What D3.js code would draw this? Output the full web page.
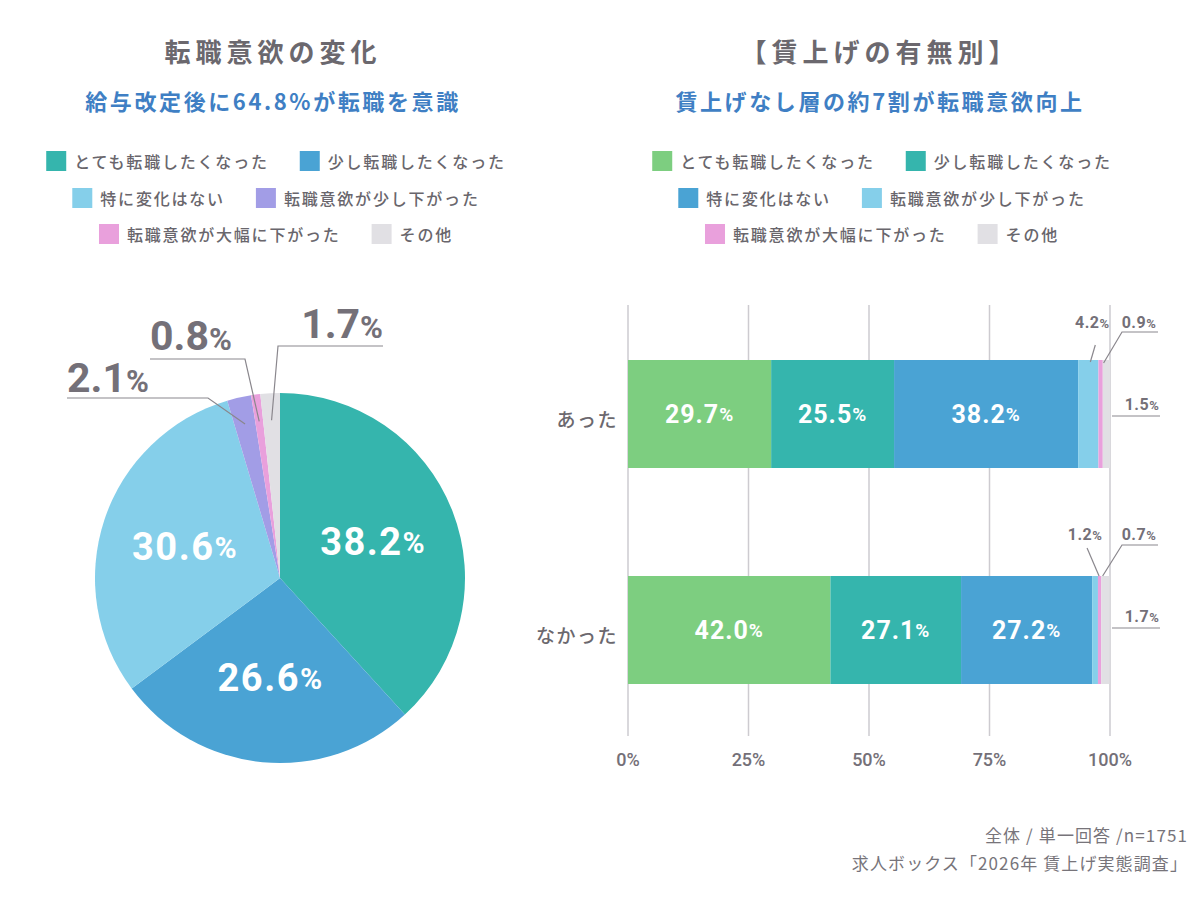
<!DOCTYPE html>
<html>
<head>
<meta charset="utf-8">
<script src="https://cdn.jsdelivr.net/npm/d3@7"></script>
<style>
  body { margin: 0; background: #fff; }
  svg { display: block; font-family: "Noto Sans CJK JP", "Noto Sans", sans-serif; }
  .num { font-family: Roboto, "Noto Sans CJK JP", sans-serif; font-weight: 700; }
</style>
</head>
<body>
<div id="chart"></div>
<script>
// Data
const categories = ["とても転職したくなった", "少し転職したくなった", "特に変化はない", "転職意欲が少し下がった", "転職意欲が大幅に下がった", "その他"];
const pieValues = [38.2, 26.6, 30.6, 2.1, 0.8, 1.7];
const pieColors = ["#35b5ad", "#4aa3d4", "#85cfea", "#a29de6", "#e9a0dc", "#e1e0e4"];
const barGroups = ["あった", "なかった"];
const barAtta = [29.7, 25.5, 38.2, 4.2, 0.9, 1.5];
const barNakatta = [42.0, 27.1, 27.2, 1.2, 0.7, 1.7];
const barColors = ["#7dce80", "#35b5ad", "#4aa3d4", "#85cfea", "#e9a0dc", "#e1e0e4"];
const xTicks = [0, 25, 50, 75, 100];

const W = 1200, H = 900;
const GRAY = "#747078";
const svg = d3.select("#chart").append("svg").attr("width", W).attr("height", H);

// number + smaller percent sign
function pct(sel, v, big, small, ls) {
  sel.attr("class", "num").attr("letter-spacing", ls || 0);
  sel.append("tspan").attr("font-size", big).text(v.toFixed(1));
  sel.append("tspan").attr("font-size", small).text("%");
  return sel;
}

// Titles
function titles(cx, t1, t2) {
  svg.append("text").attr("x", cx).attr("y", 50).attr("text-anchor", "middle")
    .attr("dominant-baseline", "central").attr("font-size", 26).attr("font-weight", 700)
    .attr("letter-spacing", 5).attr("fill", "#6b686e").text(t1);
  svg.append("text").attr("x", cx).attr("y", 100).attr("text-anchor", "middle")
    .attr("dominant-baseline", "central").attr("font-size", 22).attr("font-weight", 700)
    .attr("letter-spacing", 2.6).attr("fill", "#3f7fc4").text(t2);
}
titles(273, "転職意欲の変化", "給与改定後に64.8%が転職を意識");
titles(880, "【賃上げの有無別】", "賃上げなし層の約7割が転職意欲向上");

// Legend: three centred rows of two
function legend(cx, colors) {
  const rows = [[0, 1], [2, 3], [4, 5]];
  const ys = [161, 198, 234];
  rows.forEach((r, ri) => {
    const g = svg.append("g");
    let x = 0;
    r.forEach((i, k) => {
      if (k > 0) x += 31;
      g.append("rect").attr("x", x).attr("y", ys[ri] - 10).attr("width", 20).attr("height", 20).attr("fill", colors[i]);
      const t = g.append("text").attr("x", x + 28).attr("y", ys[ri]).attr("dominant-baseline", "central")
        .attr("font-size", 16).attr("font-weight", 500).attr("letter-spacing", 1.8)
        .attr("fill", "#69666c").text(categories[i]);
      x += 28 + t.node().getComputedTextLength();
    });
    g.attr("transform", `translate(${cx - x / 2},0)`);
  });
}
legend(276, pieColors);
legend(882, barColors);

// Pie
const cx = 280, cy = 578, R = 185;
const pie = d3.pie().sort(null).value((d) => d)(pieValues);
const arc = d3.arc().innerRadius(0).outerRadius(R);
const pg = svg.append("g").attr("transform", `translate(${cx},${cy})`);
pg.selectAll("path").data(pie).join("path")
  .attr("d", arc).attr("fill", (d, i) => pieColors[i]);

const inner = d3.arc().innerRadius(100).outerRadius(100);
pie.slice(0, 3).forEach((d) => {
  const [lx, ly] = inner.centroid(d);
  pct(pg.append("text").attr("x", lx).attr("y", ly).attr("text-anchor", "middle")
    .attr("dominant-baseline", "central").attr("fill", "#fff"), d.data, 38, 30, 1.5);
});

// outside leaders for the small slices
const edge = d3.arc().innerRadius(158).outerRadius(158);
const pieCallouts = [
  { i: 3, elbow: [-72, -180], end: -213, tx: -213, ty: -186, anchor: "start" },
  { i: 4, elbow: [-35, -219], end: -130, tx: -130, ty: -228, anchor: "start" },
  { i: 5, elbow: [-2, -232], end: 103, tx: 103, ty: -240, anchor: "end" }
];
pieCallouts.forEach((c) => {
  const p = edge.centroid(pie[c.i]);
  pg.append("polyline")
    .attr("points", [p, c.elbow, [c.end, c.elbow[1]]].map((q) => q.join(",")).join(" "))
    .attr("fill", "none").attr("stroke", "#8a878d").attr("stroke-width", 1.2);
  pct(pg.append("text").attr("x", c.tx).attr("y", c.ty).attr("text-anchor", c.anchor)
    .attr("fill", GRAY), pieValues[c.i], 41, 31, 0);
});

// Stacked bars
const x = d3.scaleLinear().domain([0, 100]).range([628, 1110]);
const y = d3.scaleBand().domain(barGroups).range([306, 738]).paddingInner(0.5).paddingOuter(0.25);
const bg = svg.append("g");
bg.selectAll("line.grid").data(xTicks).join("line").attr("class", "grid")
  .attr("x1", (d) => x(d)).attr("x2", (d) => x(d)).attr("y1", 305).attr("y2", 736)
  .attr("stroke", "#cdcbd0").attr("stroke-width", 1.5);

const barSeries = [barAtta, barNakatta];
const calloutSets = [
  [{ i: 3, from: [2, 2], to: [7, -15], tx: 4, ty: -32 },
   { i: 4, from: [3, 3], via: [1122, -28], end: 1158, tx: 1139, ty: -32 }],
  [{ i: 3, from: [4, 0], to: [-8, -28], tx: -10, ty: -36 },
   { i: 4, from: [3, 0], via: [1122, -31], end: 1158, tx: 1139, ty: -36 }]
];
const lastLine = [56, 52];

barSeries.forEach((vals, gi) => {
  const y0 = y(barGroups[gi]);
  const h = y.bandwidth();
  let acc = 0;
  const segs = vals.map((v) => { const s = { a: acc, b: acc + v, v }; acc += v; return s; });
  segs.forEach((s, i) => {
    bg.append("rect").attr("x", x(s.a)).attr("y", y0).attr("width", x(s.b) - x(s.a)).attr("height", h)
      .attr("fill", barColors[i]);
    if (s.v >= 10) {
      pct(bg.append("text").attr("x", (x(s.a) + x(s.b)) / 2).attr("y", y0 + h / 2)
        .attr("text-anchor", "middle").attr("dominant-baseline", "central").attr("fill", "#fff"), s.v, 25, 19, 1);
    }
  });
  // small-segment callouts
  calloutSets[gi].forEach((c) => {
    const s = segs[c.i];
    const mid = (x(s.a) + x(s.b)) / 2;
    const p0 = [mid + c.from[0], y0 + c.from[1]];
    let pts, tx;
    if (c.via) {
      pts = [p0, [c.via[0], y0 + c.via[1]], [c.end, y0 + c.via[1]]];
      tx = c.tx;
    } else {
      pts = [p0, [mid + c.to[0], y0 + c.to[1]]];
      tx = mid + c.tx;
    }
    bg.append("polyline").attr("points", pts.map((q) => q.join(",")).join(" "))
      .attr("fill", "none").attr("stroke", "#8a878d").attr("stroke-width", 1.2);
    pct(bg.append("text").attr("x", tx).attr("y", y0 + c.ty).attr("text-anchor", "middle")
      .attr("fill", GRAY), s.v, 16, 13, 0.5);
  });
  const s5 = segs[5];
  const ly = y0 + lastLine[gi];
  bg.append("line").attr("x1", x(100) + 2).attr("x2", x(100) + 50).attr("y1", ly).attr("y2", ly)
    .attr("stroke", "#8a878d").attr("stroke-width", 1.2);
  pct(bg.append("text").attr("x", x(100) + 32).attr("y", ly - 6).attr("text-anchor", "middle")
    .attr("fill", GRAY), s5.v, 16, 13, 0.5);
});

// category labels
bg.selectAll("text.cat").data(barGroups).join("text").attr("class", "cat")
  .attr("x", 618).attr("y", (d) => y(d) + y.bandwidth() / 2 + 4)
  .attr("text-anchor", "end").attr("dominant-baseline", "central")
  .attr("font-size", 19).attr("font-weight", 500).attr("letter-spacing", 1.5)
  .attr("fill", "#6b686e").text((d) => d);

// x axis tick labels
bg.selectAll("text.tick").data(xTicks).join("text")
  .attr("x", (d) => x(d)).attr("y", 759).attr("text-anchor", "middle").attr("dominant-baseline", "central")
  .attr("font-family", "Roboto, sans-serif").attr("font-size", 18).attr("font-weight", 500)
  .attr("fill", GRAY).text((d) => d + "%");

// Footer
svg.append("text").attr("x", 1188).attr("y", 834).attr("text-anchor", "end").attr("dominant-baseline", "central")
  .attr("font-size", 17).attr("letter-spacing", 1.1).attr("fill", "#77747a").text("全体 / 単一回答 /n=1751");
svg.append("text").attr("x", 1188).attr("y", 862).attr("text-anchor", "end").attr("dominant-baseline", "central")
  .attr("font-size", 17).attr("letter-spacing", 1.1).attr("fill", "#77747a").text("求人ボックス「2026年 賃上げ実態調査」");
</script>
</body>
</html>
